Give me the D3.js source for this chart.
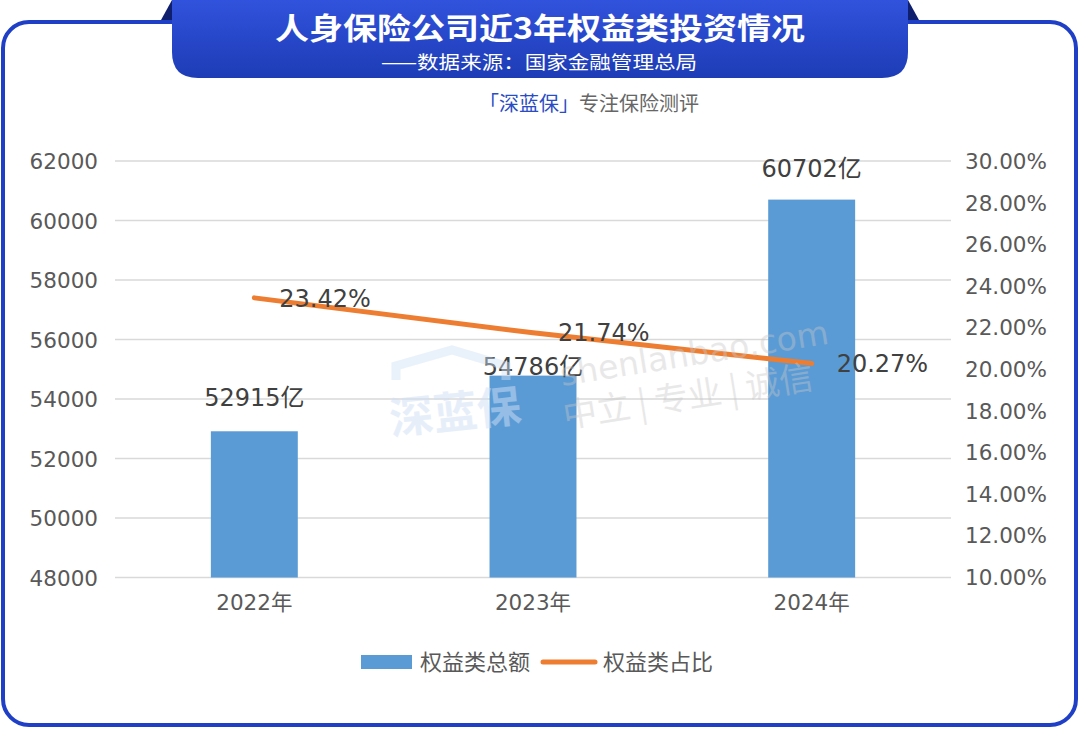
<!DOCTYPE html>
<html><head><meta charset="utf-8">
<script src="https://cdn.jsdelivr.net/npm/d3@7"></script>
<style>
html,body{margin:0;padding:0;background:#fff;}
svg{display:block;font-family:"DejaVu Sans","Noto Sans CJK SC",sans-serif;}
</style></head>
<body>
<svg id="c" width="1080" height="729"></svg>
<script>
const categories = ["2022年", "2023年", "2024年"];
const totals = [52915, 54786, 60702];
const totalLabels = ["52915亿", "54786亿", "60702亿"];
const shares = [23.42, 21.74, 20.27];
const shareLabels = ["23.42%", "21.74%", "20.27%"];
const leftTicks = [48000, 50000, 52000, 54000, 56000, 58000, 60000, 62000];
const rightTicks = [10, 12, 14, 16, 18, 20, 22, 24, 26, 28, 30];
const seriesNames = ["权益类总额", "权益类占比"];
const titleText = "人身保险公司近3年权益类投资情况";
const sourceText = "——数据来源：国家金融管理总局";

const svg = d3.select("#c");
const blue = "#1f40c6";
const NUM = "'DejaVu Sans','Noto Sans CJK SC',sans-serif";
const CJK = "'Noto Sans CJK SC',sans-serif";

// outer frame
svg.append("rect").attr("x", 3).attr("y", 22).attr("width", 1073).attr("height", 703)
  .attr("rx", 26).attr("fill", "#fff").attr("stroke", blue).attr("stroke-width", 4);

// banner
const defs = svg.append("defs");
const g = defs.append("linearGradient").attr("id", "bg").attr("x1", 0).attr("y1", 0).attr("x2", 0).attr("y2", 1);
g.append("stop").attr("offset", "0%").attr("stop-color", "#3152dc");
g.append("stop").attr("offset", "100%").attr("stop-color", "#1d3cb6");
svg.append("path").attr("d", "M161,20 L172,0 L172,20 Z").attr("fill", "#0f1f6e");
svg.append("path").attr("d", "M919,20 L908,0 L908,20 Z").attr("fill", "#0f1f6e");
const bx0 = 172, bx1 = 908, by1 = 78, r = 26;
svg.append("path")
  .attr("d", `M${bx0},0 L${bx1},0 L${bx1},${by1 - r} Q${bx1},${by1} ${bx1 - r},${by1} L${bx0 + r},${by1} Q${bx0},${by1} ${bx0},${by1 - r} Z`)
  .attr("fill", "url(#bg)");
svg.append("text").attr("x", 540).attr("y", 39).attr("text-anchor", "middle")
  .attr("fill", "#fff").attr("font-size", 30).attr("font-weight", "bold")
  .attr("font-family", CJK).attr("textLength", 530).attr("lengthAdjust", "spacingAndGlyphs").text(titleText);
svg.append("text").attr("x", 539).attr("y", 69).attr("text-anchor", "middle")
  .attr("fill", "#fff").attr("font-size", 18.5)
  .attr("font-family", CJK).attr("textLength", 316).attr("lengthAdjust", "spacingAndGlyphs").text(sourceText);

// brand line
const brand = svg.append("text").attr("x", 589).attr("y", 111).attr("text-anchor", "middle")
  .attr("font-size", 20).attr("font-family", CJK);
brand.append("tspan").attr("fill", "#2a4cc4").text("「深蓝保」");
brand.append("tspan").attr("fill", "#666").text("专注保险测评");

// scales
const x0 = 115, x1 = 951;
const x = d3.scaleBand().domain(categories).range([x0, x1]).padding(0);
const yL = d3.scaleLinear().domain([48000, 62000]).range([577.5, 161]);
const yR = d3.scaleLinear().domain([10, 30]).range([577, 161]);
const barW = x.bandwidth() * 0.312;

// gridlines
svg.append("g").selectAll("line").data(leftTicks).join("line")
  .attr("x1", x0).attr("x2", x1).attr("y1", d => yL(d)).attr("y2", d => yL(d))
  .attr("stroke", "#d9d9d9").attr("stroke-width", 1.5);

// left axis
const axL = svg.append("g").attr("transform", `translate(${98},0)`)
  .call(d3.axisLeft(yL).tickValues(leftTicks).tickSize(0).tickPadding(0).tickFormat(d3.format("d")));
axL.select(".domain").remove();
axL.selectAll("text").attr("font-size", 21.5).attr("fill", "#595959")
  .attr("font-family", NUM).attr("dy", "0.35em");

// right axis
const axR = svg.append("g").attr("transform", `translate(${965},0)`)
  .call(d3.axisRight(yR).tickValues(rightTicks).tickSize(0).tickPadding(0).tickFormat(d => d.toFixed(2) + "%"));
axR.select(".domain").remove();
axR.selectAll("text").attr("font-size", 21.5).attr("fill", "#595959")
  .attr("font-family", NUM).attr("dy", "0.35em");

// bottom axis
const axB = svg.append("g").attr("transform", `translate(0,${577.5})`)
  .call(d3.axisBottom(x).tickSize(0).tickPadding(17));
axB.select(".domain").remove();
axB.selectAll("text").attr("font-size", 21.5).attr("fill", "#595959")
  .attr("font-family", NUM);

// bars
svg.append("g").selectAll("rect").data(totals).join("rect")
  .attr("x", (d, i) => x(categories[i]) + x.bandwidth() / 2 - barW / 2)
  .attr("width", barW)
  .attr("y", d => yL(d)).attr("height", d => yL(48000) - yL(d))
  .attr("fill", "#5b9bd5");

// bar labels
const barLabelLift = [24, 0, 22];
svg.append("g").selectAll("text").data(totals).join("text")
  .attr("x", (d, i) => x(categories[i]) + x.bandwidth() / 2)
  .attr("y", (d, i) => yL(d) - 1 - barLabelLift[i])
  .attr("text-anchor", "middle").attr("font-size", 24).attr("fill", "#404040")
  .attr("font-family", NUM)
  .text((d, i) => totalLabels[i]);

// line
const line = d3.line().x((d, i) => x(categories[i]) + x.bandwidth() / 2).y(d => yR(d));
svg.append("path").datum(shares).attr("d", line).attr("fill", "none")
  .attr("stroke", "#ed7d31").attr("stroke-width", 5).attr("stroke-linecap", "round");

svg.append("g").selectAll("text").data(shares).join("text")
  .attr("x", (d, i) => x(categories[i]) + x.bandwidth() / 2 + 25)
  .attr("y", d => yR(d)).attr("dy", "0.36em")
  .attr("font-size", 24).attr("fill", "#404040")
  .attr("font-family", NUM)
  .text((d, i) => shareLabels[i]);

// watermark (on top, faint)
const wm = svg.append("g").attr("font-family", CJK).attr("pointer-events", "none");
wm.append("path").attr("d", "M396,380 L396,366 L452,350 L506,366 L506,380")
  .attr("fill", "none").attr("stroke", "#cfe0f5").attr("stroke-width", 9).attr("opacity", 0.45);
wm.append("text").attr("x", 455).attr("y", 428).attr("text-anchor", "middle")
  .attr("font-size", 44).attr("font-weight", "bold").attr("fill", "#cfe0f5").attr("opacity", 0.5)
  .attr("transform", "rotate(-6,455,410)").text("深蓝保");
wm.append("text").attr("x", 562).attr("y", 386).attr("font-size", 33).attr("fill", "#c8c8c8").attr("opacity", 0.4)
  .attr("font-family", "'DejaVu Sans',sans-serif")
  .attr("transform", "rotate(-9,562,386)").text("shenlanbao.com");
wm.append("text").attr("x", 565).attr("y", 428).attr("font-size", 34).attr("fill", "#c8c8c8").attr("opacity", 0.4)
  .attr("transform", "rotate(-9,565,428)").text("中立 | 专业 | 诚信");

// legend
const lg = svg.append("g").attr("font-family", CJK);
lg.append("rect").attr("x", 361).attr("y", 655).attr("width", 51).attr("height", 14).attr("fill", "#5b9bd5");
lg.append("text").attr("x", 420).attr("y", 662).attr("dy", "0.35em").attr("font-size", 22).attr("fill", "#595959").text(seriesNames[0]);
lg.append("line").attr("x1", 543).attr("x2", 595).attr("y1", 662).attr("y2", 662)
  .attr("stroke", "#ed7d31").attr("stroke-width", 5).attr("stroke-linecap", "round");
lg.append("text").attr("x", 603).attr("y", 662).attr("dy", "0.35em").attr("font-size", 22).attr("fill", "#595959").text(seriesNames[1]);
</script>
</body></html>
